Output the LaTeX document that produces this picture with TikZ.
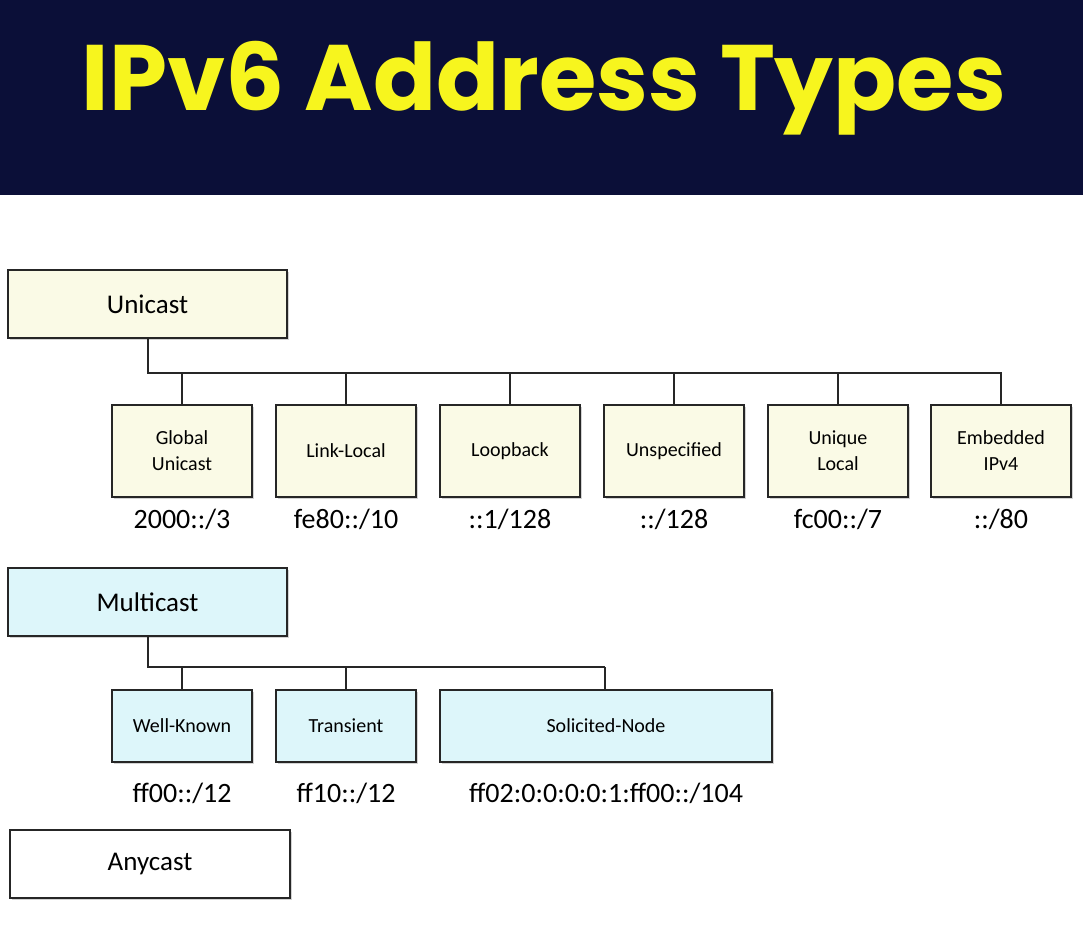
\documentclass[tikz,border=0pt]{standalone}
\usepackage{fontspec}
\setmainfont{Carlito}
\newfontfamily\titlefont{Poppins}
\usetikzlibrary{shadows}
\definecolor{navy}{HTML}{0B0F38}
\definecolor{ttl}{HTML}{F7F51E}
\definecolor{cream}{HTML}{FAFAE6}
\definecolor{cyanl}{HTML}{DDF6FA}
\tikzset{
 box/.style={draw=black!85,line width=1.3pt,drop shadow={shadow xshift=2pt,shadow yshift=-2pt,opacity=0.35},inner sep=0pt,font=\fontsize{20}{26}\selectfont,align=center},
 big/.style={box,font=\fontsize{27}{30}\selectfont},
 lbl/.style={font=\fontsize{28}{30}\selectfont,inner sep=0pt},
 ln/.style={line width=1.3pt,draw=black!85}
}
\begin{document}
\begin{tikzpicture}[x=1pt,y=-1pt]
\useasboundingbox (0,0) rectangle (1083,940);
\fill[navy] (0,0) rectangle (1083,195);
\node[text=ttl,font=\titlefont\bfseries\fontsize{93}{100}\selectfont] (title) at (544,88) {IPv6 Address Types};
% Unicast
\node[big,fill=cream,minimum width=279pt,minimum height=68pt] (uni) at (147.5,304) {Unicast};
\coordinate (uj) at (148,373);
\draw[ln] (uni.south -| uj) -- (uj) -- (1002,373);
\foreach \n/\x/\t/\a in {gu/182/{Global\\Unicast}/{2000::/3}, ll/346/Link-Local/{fe80::/10}, lb/510/Loopback/{::1/128}, un/674/Unspecified/{::/128}, ul/838/{Unique\\Local}/{fc00::/7}, em/1001/{Embedded\\IPv4}/{::/80}}{
  \node[box,fill=cream,minimum width=140pt,minimum height=92pt] (\n) at (\x,451) {\t};
  \draw[ln] (\x,373) -- (\n.north);
  \node[lbl] (\n a) at (\x,519) {\a};
}
% Multicast
\node[big,fill=cyanl,minimum width=279pt,minimum height=68pt] (mul) at (147.5,602) {Multicast};
\coordinate (mj) at (148,667);
\draw[ln] (mul.south -| mj) -- (mj) -- (605,667);
\node[box,fill=cyanl,minimum width=140pt,minimum height=72pt] (wk) at (182,726) {Well-Known};
\node[box,fill=cyanl,minimum width=140pt,minimum height=72pt] (tr) at (346,726) {Transient};
\node[box,fill=cyanl,minimum width=332pt,minimum height=72pt] (sn) at (606,726) {Solicited-Node};
\draw[ln] (182,667) -- (wk.north);
\draw[ln] (346,667) -- (tr.north);
\draw[ln] (605,667) -- (605,690);
\node[lbl] (wka) at (182,793) {ff00::/12};
\node[lbl] (tra) at (346,793) {ff10::/12};
\node[lbl] (sna) at (606,793) {ff02:0:0:0:0:1:ff00::/104};
% Anycast
\node[big,fill=white,minimum width=280pt,minimum height=68pt] (any) at (150,864) {Anycast};
\end{tikzpicture}
\end{document}
